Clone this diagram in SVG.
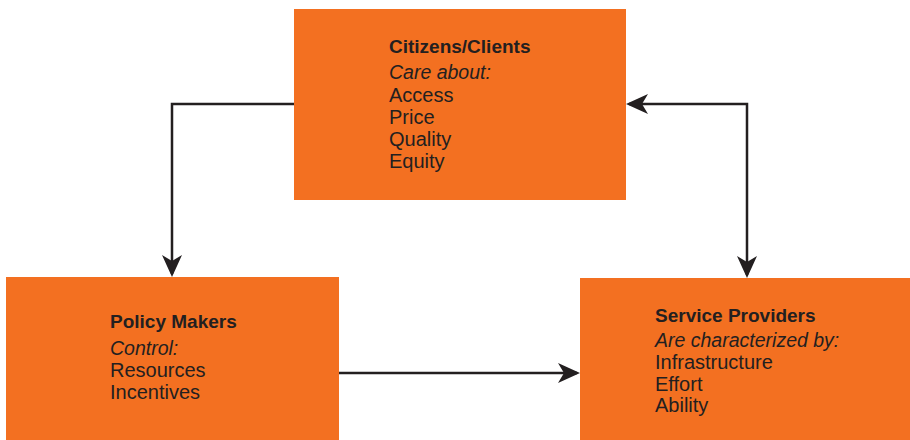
<svg xmlns="http://www.w3.org/2000/svg" width="910" height="440" viewBox="0 0 910 440">
<style>
.box{fill:#f37021}
.t{font-family:"Liberation Sans",Arial,sans-serif;font-size:20px;fill:#231f20}
.b{font-weight:bold;font-size:19px}
.i{font-style:italic;font-size:19.5px}
.c{fill:none;stroke:#231f20;stroke-width:2.5}
</style>
<defs>
<marker id="ah" viewBox="-22 -11 26 22" refX="0" refY="0" markerWidth="26" markerHeight="22" markerUnits="userSpaceOnUse" orient="auto-start-reverse">
<path d="M3,0 L-19,-10 L-13,0 L-19,10 Z" fill="#231f20"/>
</marker>
</defs>
<rect width="910" height="440" fill="#fff"/>
<g id="connectors">
<path class="c" d="M294,104 H172 V274" marker-end="url(#ah)"/>
<path class="c" d="M629,104 H747 V275" marker-start="url(#ah)" marker-end="url(#ah)"/>
<path class="c" d="M339,373 H577" marker-end="url(#ah)"/>
</g>
<g id="citizens">
<rect class="box" x="294" y="9" width="332" height="191"/>
<text class="t"><tspan class="b" x="389" y="53">Citizens/Clients</tspan><tspan class="i" x="389" y="79">Care about:</tspan><tspan x="389" y="102">Access</tspan><tspan x="389" y="124">Price</tspan><tspan x="389" y="146">Quality</tspan><tspan x="389" y="168">Equity</tspan></text>
</g>
<g id="policy">
<rect class="box" x="6" y="277" width="333" height="163"/>
<text class="t"><tspan class="b" x="110" y="328">Policy Makers</tspan><tspan class="i" x="110" y="355">Control:</tspan><tspan x="110" y="377">Resources</tspan><tspan x="110" y="399">Incentives</tspan></text>
</g>
<g id="providers">
<rect class="box" x="580" y="278" width="330" height="162"/>
<text class="t"><tspan class="b" x="655" y="322">Service Providers</tspan><tspan class="i" x="655" y="347">Are characterized by:</tspan><tspan x="655" y="369">Infrastructure</tspan><tspan x="655" y="391">Effort</tspan><tspan x="655" y="412">Ability</tspan></text>
</g>
</svg>
